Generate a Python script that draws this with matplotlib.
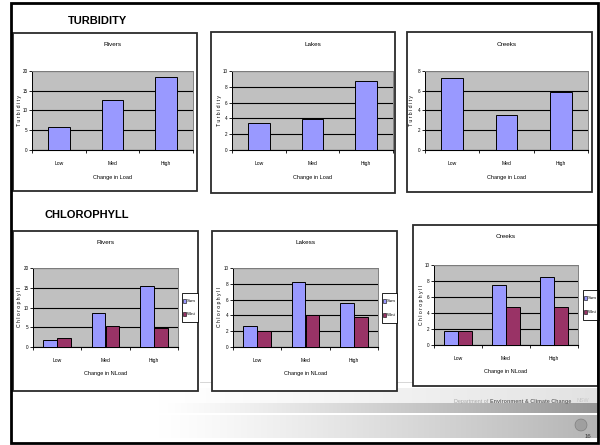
import numpy as np
import matplotlib
matplotlib.use("Agg")
import matplotlib.pyplot as plt
from matplotlib.patches import Rectangle, Ellipse

# ---- data -------------------------------------------------------------
categories = ["Low", "Med", "High"]

turb_rivers = [5.7, 12.7, 18.4]
turb_lakes = [3.4, 3.9, 8.7]
turb_creeks = [7.3, 3.5, 5.9]

chl_rivers_sum = [1.7, 8.5, 15.5]
chl_rivers_wint = [2.3, 5.3, 4.9]
chl_lakes_sum = [2.7, 8.2, 5.6]
chl_lakes_wint = [2.0, 4.0, 3.8]
chl_creeks_sum = [1.8, 7.5, 8.5]
chl_creeks_wint = [1.7, 4.8, 4.8]

series_names = ["Sum", "Wint"]

# ---- styling ----------------------------------------------------------
W, H = 600, 445
NARROW = ["Liberation Sans Narrow", "Liberation Sans", "DejaVu Sans"]
REGULAR = ["Liberation Sans", "DejaVu Sans"]
plt.rcParams["font.family"] = NARROW
C_SUM = "#9999ff"
C_WINT = "#993366"
PLOT_BG = "#c0c0c0"

fig = plt.figure(figsize=(W / 100, H / 100), dpi=100)
fig.patch.set_facecolor("white")

bg = fig.add_axes([0, 0, 1, 1], zorder=0)
bg.axis("off")


def px_axes(x0, y0, x1, y1):
    return fig.add_axes([x0 / W, 1 - y1 / H, (x1 - x0) / W, (y1 - y0) / H], zorder=2)


def frame_box(x0, y0, x1, y1):
    bg.add_patch(Rectangle((x0, y0), x1 - x0, y1 - y0, facecolor="white",
                           edgecolor="#2b2b2b", linewidth=1.3, zorder=2))


def style_axes(ax, ymax, ystep):
    ax.set_facecolor(PLOT_BG)
    ax.set_xlim(-0.5, 2.5)
    ax.set_ylim(0, ymax)
    ax.set_yticks(np.arange(0, ymax + 0.01, ystep))
    ax.yaxis.grid(True, color="black", linewidth=0.8)
    ax.set_axisbelow(True)
    ax.set_xticks(range(len(categories)))
    ax.set_xticklabels(categories)
    ax.set_xticks([-0.5, 0.5, 1.5, 2.5], minor=True)
    ax.tick_params(axis="x", which="major", length=0, labelsize=3.6, pad=8)
    ax.tick_params(axis="x", which="minor", length=2.5, width=0.6, direction="out")
    ax.tick_params(axis="y", length=2, width=0.6, labelsize=3.3, pad=1.2)
    for s in ("top", "right"):
        ax.spines[s].set_color("#808080")
        ax.spines[s].set_linewidth(0.7)
    ax.spines["left"].set_color("black")
    ax.spines["left"].set_linewidth(0.7)
    ax.spines["bottom"].set_color("black")
    ax.spines["bottom"].set_linewidth(0.8)


def labels(box, title, ylabel, xlabel, title_y, ylab_x, xlab_y, plot_y):
    x0, x1 = box
    bg.text((x0 + x1) / 2, title_y, title, ha="center", va="center", fontsize=4.6, zorder=5)
    bg.text(ylab_x, plot_y, ylabel, ha="center", va="center", rotation=90,
            fontsize=3.7, zorder=5)
    bg.text((x0 + x1) / 2, xlab_y, xlabel, ha="center", va="center", fontsize=4.0, zorder=5)


# ---- footer bands -----------------------------------------------------
def gradient_band(x0, x1, y0, y1, c_end):
    grad = np.linspace(0, 1, 256) ** 1.2
    end = np.array(matplotlib.colors.to_rgb(c_end))
    img = (1 - grad)[:, None] * np.ones(3) + grad[:, None] * end
    bg.imshow(img[None, :, :], extent=(x0, x1, y1, y0), aspect="auto", zorder=1,
              interpolation="bilinear")

bg.plot([200, 598], [382, 382], color="#d0d0d0", linewidth=0.6, zorder=1)
gradient_band(158, 598, 388, 403, "#e2e2e2")
gradient_band(158, 598, 403, 413, "#959595")
gradient_band(158, 598, 415, 438, "#b4b4b4")
bg.set_xlim(0, W)
bg.set_ylim(H, 0)

# ---- slide frame and headings -----------------------------------------
bg.add_patch(Rectangle((11, 3), 587, 440, facecolor="none", edgecolor="black",
                       linewidth=2.0, zorder=6))
bg.text(97, 21, "TURBIDITY", ha="center", va="center", fontsize=8.0,
        fontweight="bold", family=REGULAR, zorder=5)
bg.text(87, 215, "CHLOROPHYLL", ha="center", va="center", fontsize=8.0,
        fontweight="bold", family=REGULAR, zorder=5)

bg.text(488, 401, "Department of", ha="right", va="center", fontsize=3.9,
        color="#a8a8a8", zorder=5, family=NARROW)
bg.text(490, 401, "Environment & Climate Change", ha="left", va="center",
        fontsize=3.9, fontweight="bold", color="#6a6a6a", zorder=5, family=NARROW)
bg.text(589, 401, "NSW", ha="right", va="center", fontsize=3.9, color="#c8c8c8",
        zorder=5, family=NARROW)
bg.text(588, 437, "16", ha="center", va="center", fontsize=4.4, color="#333333", zorder=5)
bg.add_patch(Ellipse((581, 425), 12, 12, facecolor="#9a9a9a", edgecolor="#6a6a6a",
                     linewidth=0.4, alpha=0.8, zorder=5))

# ---- turbidity charts -------------------------------------------------
turb_sets = [
    ("Rivers", turb_rivers, (13, 33, 197, 191), (32, 71, 193, 150), 20, 5),
    ("Lakes", turb_lakes, (211, 32, 395, 193), (232, 71, 393, 150), 10, 2),
    ("Creeks", turb_creeks, (407, 32, 592, 192), (425, 71, 588, 150), 8, 2),
]
for title, vals, box, area, ymax, ystep in turb_sets:
    frame_box(*box)
    ax = px_axes(*area)
    style_axes(ax, ymax, ystep)
    ax.bar(range(len(categories)), vals, width=0.4, color=C_SUM,
           edgecolor="black", linewidth=0.7, zorder=3)
    labels((area[0], area[2]), title, "T u r b i d i t y", "Change in Load",
           box[1] + 12, area[0] - 13, area[3] + 27, (area[1] + area[3]) / 2)

# ---- chlorophyll charts -----------------------------------------------
chl_sets = [
    ("Rivers", chl_rivers_sum, chl_rivers_wint, (13, 231, 198, 391),
     (33, 268, 178, 347), 20, 5, (182, 293, 198, 322)),
    ("Lakess", chl_lakes_sum, chl_lakes_wint, (212, 231, 397, 391),
     (233, 268, 378, 347), 10, 2, (382, 293, 397, 323)),
    ("Creeks", chl_creeks_sum, chl_creeks_wint, (413, 225, 598, 386),
     (434, 265, 578, 345), 10, 2, (583, 290, 599, 320)),
]
bw = 0.4 / 1.4
for title, s_vals, w_vals, box, area, ymax, ystep, leg in chl_sets:
    frame_box(*box)
    ax = px_axes(*area)
    style_axes(ax, ymax, ystep)
    x = np.arange(len(categories))
    ax.bar(x - bw / 2, s_vals, width=bw, color=C_SUM, edgecolor="black",
           linewidth=0.7, zorder=3)
    ax.bar(x + bw / 2, w_vals, width=bw, color=C_WINT, edgecolor="black",
           linewidth=0.7, zorder=3)
    labels((area[0], area[2]), title, "C h l o r o p h y l l", "Change in NLoad",
           box[1] + 12, area[0] - 13, area[3] + 26, (area[1] + area[3]) / 2)
    # legend box
    lx0, ly0, lx1, ly1 = leg
    bg.add_patch(Rectangle((lx0, ly0), lx1 - lx0, ly1 - ly0, facecolor="white",
                           edgecolor="black", linewidth=0.6, zorder=4))
    for k, (name, col) in enumerate(zip(series_names, [C_SUM, C_WINT])):
        yy = ly0 + (ly1 - ly0) * (0.27 + 0.46 * k)
        bg.add_patch(Rectangle((lx0 + 1.2, yy - 2), 3, 4, facecolor=col,
                               edgecolor="black", linewidth=0.4, zorder=5))
        bg.text(lx0 + 4.8, yy, name, ha="left", va="center", fontsize=3.2, zorder=5)

fig.savefig("out.png", dpi=100)
